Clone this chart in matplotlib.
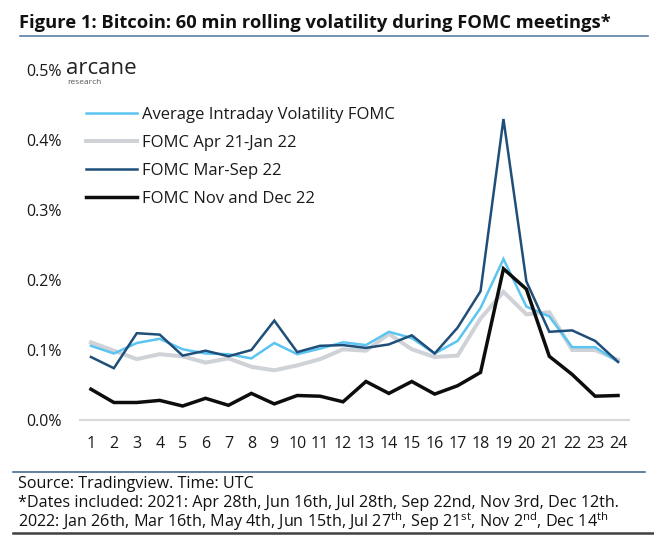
"""Bitcoin 60 min rolling volatility during FOMC meetings."""

import matplotlib

matplotlib.use("Agg")

import matplotlib.pyplot as plt
from matplotlib.lines import Line2D
import numpy as np

plt.rcParams["font.family"] = ["Open Sans", "DejaVu Sans"]
plt.rcParams["mathtext.fontset"] = "custom"
plt.rcParams["mathtext.rm"] = "Open Sans"

hours = list(range(1, 25))

avg_fomc = [0.106, 0.095, 0.110, 0.116, 0.101, 0.095, 0.094, 0.088, 0.110, 0.094,
            0.102, 0.111, 0.107, 0.126, 0.117, 0.095, 0.113, 0.160, 0.230, 0.162,
            0.148, 0.104, 0.104, 0.083]
fomc_apr21_jan22 = [0.111, 0.099, 0.087, 0.094, 0.091, 0.082, 0.088, 0.076, 0.071, 0.078,
                    0.087, 0.101, 0.099, 0.123, 0.101, 0.090, 0.092, 0.145, 0.183, 0.151,
                    0.154, 0.100, 0.100, 0.086]
fomc_mar_sep22 = [0.090, 0.074, 0.124, 0.122, 0.092, 0.099, 0.091, 0.100, 0.142, 0.097,
                  0.106, 0.107, 0.103, 0.108, 0.121, 0.095, 0.132, 0.184, 0.430, 0.198,
                  0.126, 0.128, 0.113, 0.083]
fomc_nov_dec22 = [0.044, 0.025, 0.025, 0.028, 0.020, 0.031, 0.021, 0.038, 0.023, 0.035,
                  0.034, 0.026, 0.055, 0.038, 0.055, 0.037, 0.049, 0.068, 0.216, 0.187,
                  0.091, 0.065, 0.034, 0.035]

series = [
    ("Average Intraday Volatility FOMC", avg_fomc, "#5BC4F1", 1.8, 3),
    ("FOMC Apr 21-Jan 22", fomc_apr21_jan22, "#CFD2D7", 2.9, 2),
    ("FOMC Mar-Sep 22", fomc_mar_sep22, "#1F4E79", 1.8, 4),
    ("FOMC Nov and Dec 22", fomc_nov_dec22, "#0D0D0D", 2.5, 5),
]

W, H = 654, 543
fig = plt.figure(figsize=(W / 100, H / 100), dpi=100)
ax = fig.add_axes([79.5 / W, 1 - 420 / H, 550 / W, 350 / H])

handles = []
for label, values, color, lw, z in series:
    ax.plot(hours, values, color=color, lw=lw, zorder=z, solid_joinstyle="miter")
    handles.append(Line2D([], [], color=color, lw=lw, label=label))

ax.set_xlim(0.5, 24.5)
ax.set_ylim(0, 0.5)
ax.set_xticks(hours)
ax.set_xticklabels([str(h) for h in hours], fontsize=11.5, color="#1a1a1a")
ax.set_yticks(np.arange(0, 0.51, 0.1))
ax.set_yticklabels([f"{v:.1f}%" for v in np.arange(0, 0.51, 0.1)], fontsize=11.5, color="#1a1a1a")
ax.tick_params(length=0)
ax.tick_params(axis="x", pad=11.5)
ax.tick_params(axis="y", pad=12.8)
for side in ["top", "right", "left"]:
    ax.spines[side].set_visible(False)
ax.spines["bottom"].set_color("#D9D9D9")
ax.spines["bottom"].set_linewidth(1.5)

fig.legend(handles=handles, loc="upper left", bbox_to_anchor=(86 / W, 1 - 107 / H),
           frameon=False, fontsize=12, handlelength=3.05, handletextpad=0.3,
           labelspacing=0.72, borderpad=0, borderaxespad=0, labelcolor="#1a1a1a")

# logo
fig.text(66 / W, 1 - 74 / H, "arcane", fontsize=16, color="#222222")
fig.text(67 / W, 1 - 84 / H, "research", fontsize=6, color="#555555")

# title and rules
fig.text(19 / W, 1 - 23 / H, "Figure 1: Bitcoin: 60 min rolling volatility during FOMC meetings*",
         fontsize=13.2, fontweight="bold", va="center", color="#111111")
fig.add_artist(Line2D([20 / W, 648 / W], [1 - 36 / H] * 2, color="#5A7FA8", lw=1.2))
fig.add_artist(Line2D([13 / W, 645 / W], [1 - 472 / H] * 2, color="#4A6C94", lw=1.2))
fig.add_artist(Line2D([13 / W, 1], [1 - 533 / H] * 2, color="#404040", lw=1.8))

footer = [
    "Source: Tradingview. Time: UTC",
    "*Dates included: 2021: Apr 28th, Jun 16th, Jul 28th, Sep 22nd, Nov 3rd, Dec 12th.",
    r"2022: Jan 26th, Mar 16th, May 4th, Jun 15th, Jul 27$^{\mathrm{th}}$, Sep 21$^{\mathrm{st}}$, "
    r"Nov 2$^{\mathrm{nd}}$, Dec 14$^{\mathrm{th}}$",
]
for i, line in enumerate(footer):
    fig.text(18 / W, 1 - (484.5 + 18.5 * i) / H, line, fontsize=11.6, va="center", color="#111111")

fig.savefig("out.png", dpi=100)
